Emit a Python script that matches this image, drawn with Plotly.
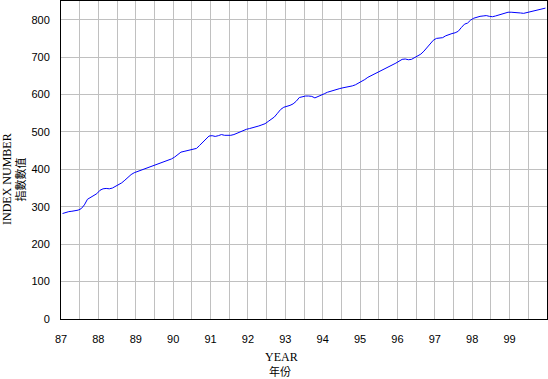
import plotly.graph_objects as go

years = list(range(1987, 2000))
year_labels = ["87", "88", "89", "90", "91", "92", "93", "94", "95", "96", "97", "98", "99"]

v1987 = [282, 285, 287, 288, 289, 291, 295, 305, 320, 325, 328, 335]
v1988 = [344, 348, 349, 348, 350, 354, 358, 364, 371, 379, 386, 391]
v1989 = [394, 397, 400, 403, 406, 409, 413, 416, 419, 422, 425, 428]
v1990 = [433, 440, 446, 448, 450, 451, 453, 456, 464, 472, 480, 489]
v1991 = [490, 488, 490, 493, 491, 490, 491, 493, 497, 500, 504, 507]
v1992 = [509, 511, 513, 516, 519, 522, 528, 535, 540, 550, 560, 566]
v1993 = [568, 571, 575, 582, 592, 595, 596, 596, 595, 591, 594, 598]
v1994 = [602, 606, 609, 612, 614, 616, 618, 619, 621, 623, 626, 630]
v1995 = [634, 640, 646, 650, 654, 658, 662, 667, 671, 675, 679, 684]
v1996 = [689, 694, 695, 693, 694, 698, 702, 708, 716, 725, 736, 745]
v1997 = [750, 751, 752, 757, 761, 763, 765, 769, 779, 788, 791, 799]
v1998 = [804, 807, 809, 810, 811, 809, 808, 810, 813, 815, 818, 820]
v1999 = [820, 820, 819, 818, 817, 819, 822, 825, 827, 828, 830, 831]

series = [v1987, v1988, v1989, v1990, v1991, v1992, v1993,
          v1994, v1995, v1996, v1997, v1998, v1999]

x = []
y = []
for yr, vals in zip(years, series):
    for m, v in enumerate(vals):
        x.append((yr - 1900) + (m + 0.5) / 12)
        y.append(v)

fig = go.Figure()
fig.add_trace(go.Scatter(x=x, y=y, mode="lines",
                         line=dict(color="#0000ff", width=1),
                         showlegend=False, hoverinfo="skip"))

serif = "Liberation Serif, Times New Roman, serif"
cjk = "Noto Sans CJK TC, Noto Sans CJK SC, sans-serif"
tickfont = dict(family="Liberation Sans, Arial, sans-serif", size=11, color="black")

fig.update_layout(
    width=548, height=379,
    margin=dict(l=61, r=1, t=1, b=60),
    paper_bgcolor="white", plot_bgcolor="white",
    xaxis=dict(
        range=[87, 100],
        tickvals=[yy - 1900 for yy in years],
        ticktext=year_labels,
        showgrid=True, gridcolor="#c0c0c0", gridwidth=1,
        minor=dict(dtick=0.5, tick0=87, showgrid=True, gridcolor="#c0c0c0", gridwidth=1),
        showline=True, linecolor="black", linewidth=1, mirror=True,
        ticks="", tickfont=tickfont, ticklabelstandoff=10,
        zeroline=False,
    ),
    yaxis=dict(
        range=[0, 850],
        dtick=100, tick0=0,
        showgrid=True, gridcolor="#c0c0c0", gridwidth=1,
        showline=True, linecolor="black", linewidth=1, mirror=True,
        ticks="", tickfont=tickfont, ticklabelstandoff=8,
        zeroline=False,
    ),
)

W = 486.0
H = 318.0
def px(xp):
    return (xp - 61) / W
def py(yp):
    return (319 - yp) / H

anns = [
    dict(text="INDEX NUMBER", x=px(7), y=py(179), textangle=-90,
         font=dict(family=serif, size=12, color="black")),
    dict(text="指數數值", x=px(19.5), y=py(180), textangle=-90,
         font=dict(family=cjk, size=11, color="black")),
    dict(text="YEAR", x=px(281), y=py(357),
         font=dict(family=serif, size=12, color="black")),
    dict(text="年份", x=px(280), y=py(371),
         font=dict(family=cjk, size=11, color="black")),
]
for a in anns:
    fig.add_annotation(xref="paper", yref="paper", showarrow=False,
                       xanchor="center", yanchor="middle", **a)

fig.write_html("out.html")
